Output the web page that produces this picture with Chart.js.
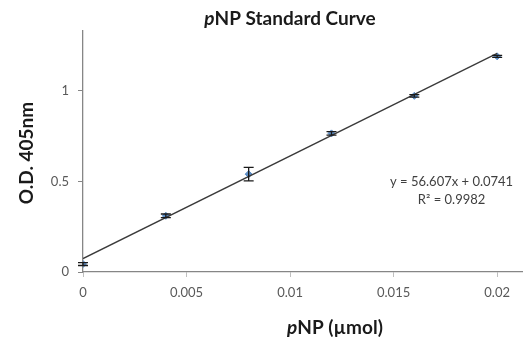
<!DOCTYPE html>
<html>
<head>
<meta charset="utf-8">
<script src="https://cdn.jsdelivr.net/npm/chart.js@4.4.1/dist/chart.umd.min.js"></script>
<style>
  html, body { margin: 0; padding: 0; background: #fff; }
  #wrap { width: 527px; height: 344px; }
</style>
</head>
<body>
<div id="wrap"><canvas id="pnp-curve"></canvas></div>
<script>
// pNP amount (umol) and measured O.D. at 405nm
const pnpAmount = [0, 0.004, 0.008, 0.012, 0.016, 0.02];
const odValues = [0.044, 0.31, 0.54, 0.765, 0.972, 1.19];
const odErrors = [0.008, 0.01, 0.037, 0.01, 0.007, 0.006];

const xTickValues = [0, 0.005, 0.01, 0.015, 0.02];
const xTickLabels = ["0", "0.005", "0.01", "0.015", "0.02"];
const yTickValues = [0, 0.5, 1];
const yTickLabels = ["0", "0.5", "1"];

// linear trendline from the equation shown on the chart
const slope = 56.607;
const intercept = 0.0741;
const equationText = "y = 56.607x + 0.0741";
const r2Text = "R² = 0.9982";

const fontFamily = "Lato, 'Open Sans', sans-serif";
const tickColor = "#595959";
const axisColor = "#868686";

const trendX = [0, 0.02];

const errorBars = {
  id: "errorBars",
  afterDatasetsDraw(chart) {
    const ctx = chart.ctx;
    const xs = chart.scales.x, ys = chart.scales.y;
    ctx.save();
    ctx.strokeStyle = "#1a1a1a";
    ctx.lineWidth = 1.3;
    pnpAmount.forEach((v, i) => {
      const px = xs.getPixelForValue(v);
      const top = ys.getPixelForValue(odValues[i] + odErrors[i]);
      const bot = ys.getPixelForValue(odValues[i] - odErrors[i]);
      ctx.beginPath();
      ctx.moveTo(px, top); ctx.lineTo(px, bot);
      ctx.moveTo(px - 5, top); ctx.lineTo(px + 5, top);
      ctx.moveTo(px - 5, bot); ctx.lineTo(px + 5, bot);
      ctx.stroke();
    });
    ctx.restore();
  }
};

function drawMixed(ctx, parts, cx, cy) {
  let total = 0;
  parts.forEach(p => { ctx.font = p.font; total += ctx.measureText(p.text).width; });
  let x = cx - total / 2;
  parts.forEach(p => {
    ctx.font = p.font;
    ctx.fillText(p.text, x, cy);
    x += ctx.measureText(p.text).width;
  });
}

const labels = {
  id: "labels",
  afterDraw(chart) {
    const ctx = chart.ctx;
    const xs = chart.scales.x, ys = chart.scales.y;
    ctx.save();
    ctx.textBaseline = "middle";
    ctx.textAlign = "left";
    ctx.fillStyle = "#1a1a1a";
    // chart title
    drawMixed(ctx, [
      { text: "p", font: "italic bold 19px " + fontFamily },
      { text: "NP Standard Curve", font: "bold 19px " + fontFamily }
    ], 290, 19);
    // x axis title
    drawMixed(ctx, [
      { text: "p", font: "italic bold 19px " + fontFamily },
      { text: "NP (µmol)", font: "bold 19px " + fontFamily }
    ], 335, 328);
    // y axis title
    ctx.save();
    ctx.translate(27, 153);
    ctx.rotate(-Math.PI / 2);
    ctx.textAlign = "center";
    ctx.font = "bold 19px " + fontFamily;
    ctx.fillText("O.D. 405nm", 0, 0);
    ctx.restore();
    // trendline equation
    ctx.fillStyle = "#404040";
    ctx.textAlign = "center";
    ctx.font = "13px " + fontFamily;
    const ex = xs.getPixelForValue(0.0178);
    ctx.fillText(equationText, ex, ys.getPixelForValue(0.5));
    ctx.fillText(r2Text, ex, ys.getPixelForValue(0.4));
    ctx.restore();
  }
};

new Chart(document.getElementById("pnp-curve").getContext("2d"), {
  type: "scatter",
  data: {
    datasets: [
      {
        label: "Linear trend",
        type: "line",
        data: trendX.map(x => ({ x: x, y: slope * x + intercept })),
        borderColor: "#3a3a3a",
        borderWidth: 1.3,
        pointRadius: 0,
        fill: false,
        order: 0,
      },
      {
        label: "pNP",
        data: pnpAmount.map((x, i) => ({ x: x, y: odValues[i] })),
        pointStyle: "rectRot",
        pointRadius: 3.5,
        backgroundColor: "#5b8cc4",
        borderColor: "#5b8cc4",
        order: 1,
      },
    ],
  },
  options: {
    responsive: true,
    maintainAspectRatio: false,
    animation: false,
    layout: { padding: { top: 31, right: 1, left: 0, bottom: 0 } },
    plugins: {
      legend: { display: false },
      tooltip: { enabled: false },
    },
    scales: {
      x: {
        type: "linear",
        min: 0,
        max: 0.0212,
        afterBuildTicks: s => { s.ticks = xTickValues.map(v => ({ value: v })); },
        afterFit: s => { s.height = 72; },
        grid: { drawOnChartArea: false, color: "#bfbfbf", tickLength: 5 },
        border: { color: axisColor, width: 1.3 },
        ticks: {
          color: tickColor,
          font: { family: fontFamily, size: 13 },
          padding: 8,
          maxRotation: 0,
          callback: (v) => xTickLabels[xTickValues.indexOf(v)],
        },
      },
      y: {
        type: "linear",
        min: 0,
        max: 1.33,
        afterBuildTicks: s => { s.ticks = yTickValues.map(v => ({ value: v })); },
        afterFit: s => { s.width = 83; },
        grid: { drawOnChartArea: false, color: axisColor, tickLength: 5 },
        border: { color: axisColor, width: 1.3 },
        ticks: {
          color: tickColor,
          font: { family: fontFamily, size: 13 },
          padding: 9,
          callback: (v) => yTickLabels[yTickValues.indexOf(v)],
        },
      },
    },
  },
  plugins: [errorBars, labels],
});
</script>
</body>
</html>
